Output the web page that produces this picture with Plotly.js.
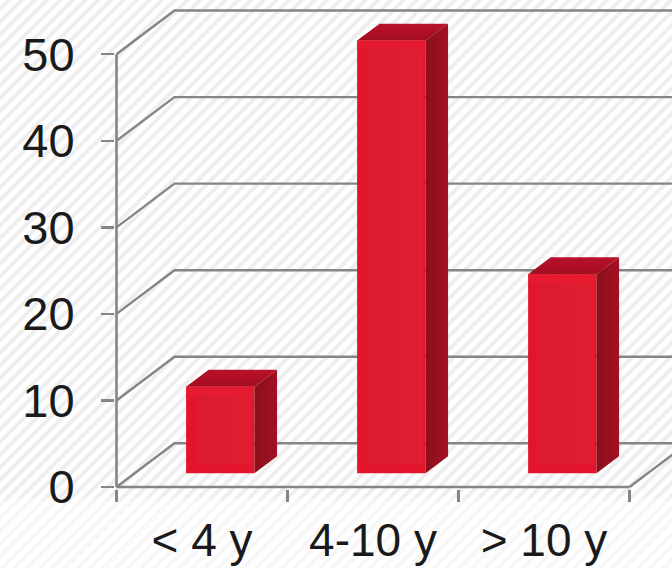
<!DOCTYPE html>
<html>
<head>
<meta charset="utf-8">
<script src="https://cdn.plot.ly/plotly-3.0.1.min.js"></script>
<style>
  html, body { margin: 0; padding: 0; width: 672px; height: 568px; overflow: hidden; background: #fff; }
  #stage {
    width: 672px; height: 568px;
    background:
      linear-gradient(to bottom, rgba(255,255,255,0) 496px, rgba(255,255,255,0.55) 503px),
      repeating-linear-gradient(135deg, #ffffff 0px, #ffffff 4px, #eeeeee 5px, #eeeeee 8px, #ffffff 9px);
  }
</style>
</head>
<body>
<div id="stage"></div>
<script>
// Share of patients by time band
const categories = ['< 4 y', '4-10 y', '> 10 y'];
const values = [10, 50, 23];
const yTicks = [0, 10, 20, 30, 40, 50];
const xBoundaries = [0, 1, 2, 3];

// Oblique projection, in axis units
const wallDx = 0.339, wallDy = 5.05;   // depth of the floor and side wall
const barDx = 0.132, barDy = 1.96;     // depth of each column
const barLift = 1.58;                  // height of a column's foot above the front floor edge
const barOffset = 0.607;               // column centre within its category band
const barWidth = 0.4;
// Ranges start just below zero so the axis strokes are not clipped at the plot edge
const xRange = [-0.00877, 3.2485], yRange = [-0.231, 56.27];

const grey = '#858585';
const traces = [];

function line(xs, ys, width) {
  traces.push({ type: 'scatter', mode: 'lines', x: xs, y: ys, xaxis: 'x', yaxis: 'y',
    line: { color: grey, width: width || 2.4 }, hoverinfo: 'skip', showlegend: false });
}
function face(xs, ys, fill) {
  traces.push(Object.assign({ type: 'scatter', mode: 'none', x: xs.concat(xs[0]), y: ys.concat(ys[0]),
    xaxis: 'x2', yaxis: 'y2', fill: 'toself', hoverinfo: 'skip', showlegend: false }, fill));
}
function ramp(type, a, b) {
  return { fillcolor: a, fillgradient: { type: type, colorscale: [[0, a], [1, b]] } };
}

// Left wall and back wall grid
yTicks.forEach(t => {
  line([0, wallDx, xRange[1] + 1], [t, t + wallDy, t + wallDy]);
});
// Floor: right-hand edge running back, then the front edge
line([3, 3 + wallDx], [0, wallDy]);
line([0, 3], [0, 0], 2.6);
// Value axis stops at its highest tick
line([0, 0], [0, yTicks[yTicks.length - 1]], 2.6);

const centres = categories.map((_, i) => i + barOffset);

// Column fronts
traces.push({ type: 'bar', x: centres, y: values, base: values.map(() => barLift), width: barWidth,
  xaxis: 'x2', yaxis: 'y2', marker: { color: '#e3142c', line: { width: 0 } }, hoverinfo: 'skip', showlegend: false });

centres.forEach((c, i) => {
  const l = c - barWidth / 2, r = c + barWidth / 2;
  const b = barLift, t = barLift + values[i];
  // Side face
  face([r, r + barDx, r + barDx, r], [b, b + barDy, t + barDy, t], ramp('horizontal', '#8c0f1a', '#a21124'));
  // Top face
  face([l, l + barDx, r + barDx, r], [t, t + barDy, t + barDy, t], ramp('vertical', '#a20e20', '#bb102c'));
  // Bevelled front: bright upper strip, softer inner panel
  const ix = 0.055, iy = 0.95;
  face([l, r, r - ix * 0.2, l + ix * 0.2], [t, t, t - iy, t - iy], ramp('vertical', '#e71d31', '#e4182e'));
  face([l + ix, r - ix * 0.25, r - ix * 0.25, l + ix], [b + iy, b + iy, t - iy, t - iy],
    ramp('horizontal', '#dc1b2f', '#e01e30'));
});

const layout = {
  width: 672, height: 568,
  margin: { l: 115, r: 0, t: 0, b: 79, pad: 0 },
  paper_bgcolor: 'rgba(0,0,0,0)', plot_bgcolor: 'rgba(0,0,0,0)',
  showlegend: false,
  font: { family: 'Liberation Sans, Arial, sans-serif', color: '#1a1a1a' },
  xaxis: {
    range: xRange, fixedrange: true, showgrid: false, zeroline: false,
    tickmode: 'array', tickvals: xBoundaries, ticktext: xBoundaries.map(() => ''),
    ticks: 'outside', ticklen: 12, tickwidth: 2.4, tickcolor: grey
  },
  yaxis: {
    range: yRange, fixedrange: true, showgrid: false, zeroline: false,
    showline: false,
    tickmode: 'array', tickvals: yTicks, ticktext: yTicks.map(String),
    ticks: 'outside', ticklen: 13, tickwidth: 2.4, tickcolor: grey,
    tickfont: { size: 47, color: '#1a1a1a' }, ticklabelstandoff: 17
  },
  xaxis2: {
    range: xRange, overlaying: 'x', anchor: 'y2', side: 'bottom', fixedrange: true,
    showgrid: false, zeroline: false, ticks: '',
    tickmode: 'array', tickvals: categories.map((_, i) => i + 0.5), ticktext: categories,
    tickfont: { size: 46, color: '#1a1a1a' }, ticklabelstandoff: 20
  },
  yaxis2: {
    range: yRange, overlaying: 'y', anchor: 'x2', fixedrange: true,
    visible: false
  }
};

Plotly.newPlot('stage', traces, layout, { displayModeBar: false, staticPlot: true });
</script>
</body>
</html>
